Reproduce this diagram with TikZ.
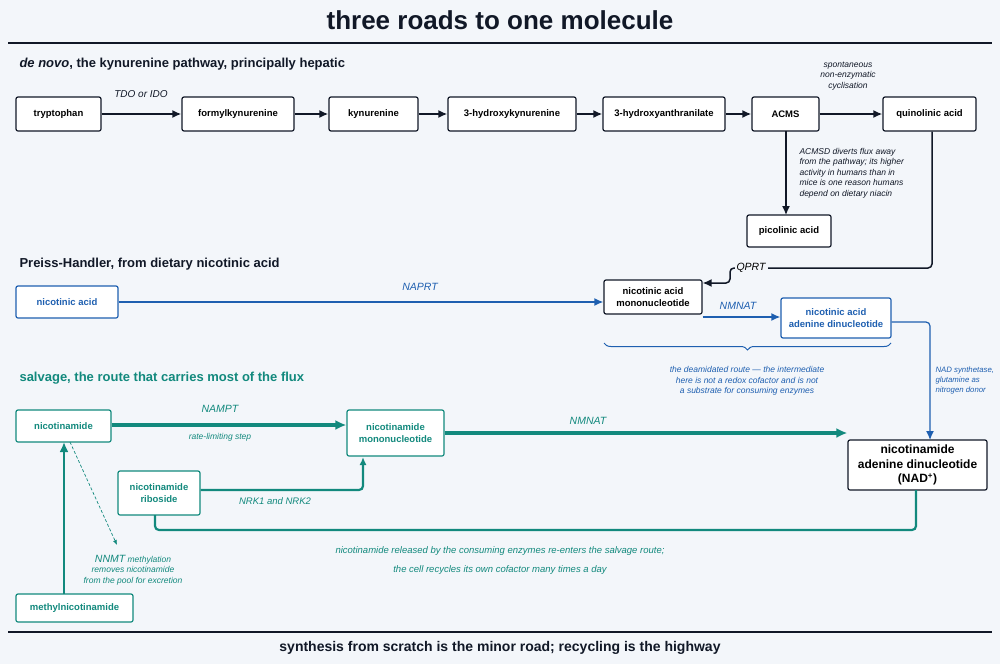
\documentclass[tikz,border=0pt]{standalone}
\usepackage{fontspec}
\setmainfont{Liberation Sans}
\usetikzlibrary{arrows.meta,decorations.pathreplacing}
\definecolor{bg}{HTML}{F3F6FA}
\definecolor{ink}{HTML}{111827}
\definecolor{blu}{HTML}{1E5FB0}
\definecolor{grn}{HTML}{12897D}
\begin{document}
\begin{tikzpicture}[x=1pt,y=-1pt,
 box/.style={draw=ink,line width=1.2pt,rounded corners=2pt,fill=white,font=\bfseries\fontsize{9.5}{12}\selectfont,align=center,inner sep=0pt},
 bbox/.style={box,draw=blu,text=blu},
 gbox/.style={box,draw=grn,text=grn},
 lab/.style={font=\itshape\fontsize{8.5}{10.5}\selectfont,align=center},
 head/.style={anchor=west,font=\bfseries\fontsize{13}{15}\selectfont},
 arr/.style={-{Latex[length=9pt,width=8pt]},line width=1.8pt,draw=ink},
 barr/.style={arr,draw=blu,line width=1.6pt},
 garr/.style={-{Latex[length=11pt,width=10pt]},line width=3.2pt,draw=grn},
 gline/.style={draw=grn,line width=2.2pt,rounded corners=4pt}]
\fill[bg] (0,0) rectangle (1000,664);
\useasboundingbox (0,0) rectangle (1000,664);
\node[font=\bfseries\fontsize{26}{30}\selectfont,text=ink] (title) at (500,20) {three roads to one molecule};
\draw[ink,line width=2pt] (8,43) -- (992,43);
\draw[ink,line width=2pt] (8,632) -- (992,632);
\node[font=\bfseries\fontsize{14}{16}\selectfont,text=ink] (foot) at (500,648) {synthesis from scratch is the minor road; recycling is the highway};
% de novo
\node[head,text=ink] (h1) at (16,64) {\textit{de novo}, the kynurenine pathway, principally hepatic};
\node[box,minimum width=85,minimum height=34] (trp) at (58.5,114) {tryptophan};
\node[box,minimum width=112,minimum height=34] (fk) at (238,114) {formylkynurenine};
\node[box,minimum width=89,minimum height=34] (ky) at (373.5,114) {kynurenine};
\node[box,minimum width=128,minimum height=34] (hk) at (512,114) {3-hydroxykynurenine};
\node[box,minimum width=122,minimum height=34] (ha) at (664,114) {3-hydroxyanthranilate};
\node[box,minimum width=67,minimum height=34] (acms) at (785.5,114) {ACMS};
\node[box,minimum width=93,minimum height=34] (qa) at (929.5,114) {quinolinic acid};
\node[box,minimum width=84,minimum height=32] (pic) at (789,231) {picolinic acid};
\draw[arr] (trp) -- (fk);
\draw[arr] (fk) -- (ky);
\draw[arr] (ky) -- (hk);
\draw[arr] (hk) -- (ha);
\draw[arr] (ha) -- (acms);
\draw[arr] (acms) -- (qa);
\node[lab,text=ink,font=\itshape\fontsize{10}{12}\selectfont] (l1) at (141,94) {TDO or IDO};
\node[lab,text=ink] (l2) at (848,76) {spontaneous\\non-enzymatic\\cyclisation};
\draw[arr,line width=1.4pt] (786,131) -- (786,215);
\node[lab,text=ink,align=left,anchor=west] (l3) at (796,173) {ACMSD diverts flux away\\from the pathway; its higher\\activity in humans than in\\mice is one reason humans\\depend on dietary niacin};
% Preiss-Handler
\node[head,text=ink] (h2) at (16,264) {Preiss-Handler, from dietary nicotinic acid};
\node[bbox,minimum width=102,minimum height=32] (na) at (67,302) {nicotinic acid};
\node[box,minimum width=98,minimum height=34] (namn) at (653,297) {nicotinic acid\\mononucleotide};
\node[bbox,minimum width=110,minimum height=40] (naad) at (836,318) {nicotinic acid\\adenine dinucleotide};
\draw[barr] (na.east) -- (na.east -| namn.west) ;
\node[lab,text=blu,font=\itshape\fontsize{10.5}{12}\selectfont] (l4) at (420,287) {NAPRT};
\draw[arr,line width=1.5pt,rounded corners=4pt] (qa.south -| 932,0) |- (730,268) -- (730,283) -- (namn.east |- 0,283);
\node[lab,fill=bg,inner sep=2pt,font=\itshape\fontsize{10.5}{12}\selectfont] (l5) at (751,268) {QPRT};
\draw[barr] (namn.east |- 0,317) -- (naad.west |- 0,317);
\node[lab,text=blu,font=\itshape\fontsize{10.5}{12}\selectfont] (l6) at (738,306) {NMNAT};
\draw[decorate,decoration={brace,mirror,amplitude=7pt},blu,line width=1pt] (604,343) -- (891,343);
\node[lab,text=blu] (l7) at (747,381) {the deamidated route --- the intermediate\\here is not a redox cofactor and is not\\a substrate for consuming enzymes};
\node[box,minimum width=139,minimum height=50,font=\bfseries\fontsize{12}{14.5}\selectfont] (nad) at (917.5,465) {nicotinamide\\adenine dinucleotide\\(NAD\textsuperscript{+})};
\draw[barr,line width=1.2pt,rounded corners=4pt] (naad.east |- 0,322) -| (930,440);
\node[lab,text=blu,align=left,anchor=west,font=\itshape\fontsize{7.8}{10}\selectfont] (l8) at (932,380) {NAD synthetase,\\glutamine as\\nitrogen donor};
% salvage
\node[head,text=grn] (h3) at (16,378) {salvage, the route that carries most of the flux};
\node[gbox,minimum width=95,minimum height=32] (nam) at (63.5,426) {nicotinamide};
\node[gbox,minimum width=97,minimum height=46] (nmn) at (395.5,433) {nicotinamide\\mononucleotide};
\node[gbox,minimum width=82,minimum height=44] (nr) at (159,493) {nicotinamide\\riboside};
\node[gbox,minimum width=117,minimum height=28] (mna) at (74.5,608) {methylnicotinamide};
\draw[garr] (nam.east |- 0,425) -- (nmn.west |- 0,425);
\node[lab,text=grn,font=\itshape\fontsize{10.5}{12}\selectfont] (l9) at (220,409) {NAMPT};
\node[lab,text=grn] (l10) at (220,437) {rate-limiting step};
\draw[garr] (nmn.east |- 0,433) -- (nad.west |- 0,433);
\node[lab,text=grn,font=\itshape\fontsize{10.5}{12}\selectfont] (l11) at (588,421) {NMNAT};
\draw[-{Latex[length=8pt,width=7pt]},gline] (nr.east |- 0,490) -| (363,457);
\node[lab,text=grn,font=\itshape\fontsize{9.5}{12}\selectfont] (l12) at (275,501) {NRK1 and NRK2};
\draw[gline] (916,490) |- (155,530) -- (155,515);
\node[lab,text=grn,font=\itshape\fontsize{9.5}{19}\selectfont] (l13) at (500,561) {nicotinamide released by the consuming enzymes re-enters the salvage route;\\the cell recycles its own cofactor many times a day};
\draw[-{Latex[length=10pt,width=9pt]},draw=grn,line width=2.2pt] (64,594) -- (64,442);
\draw[-{Latex[length=5pt,width=4pt]},draw=grn,line width=0.7pt,dash pattern=on 3pt off 2pt] (70,442) -- (117,545);
\node[lab,text=grn] (l14) at (133,570) {{\fontsize{10.5}{12}\selectfont NNMT} methylation\\removes nicotinamide\\from the pool for excretion};
\end{tikzpicture}
\end{document}
